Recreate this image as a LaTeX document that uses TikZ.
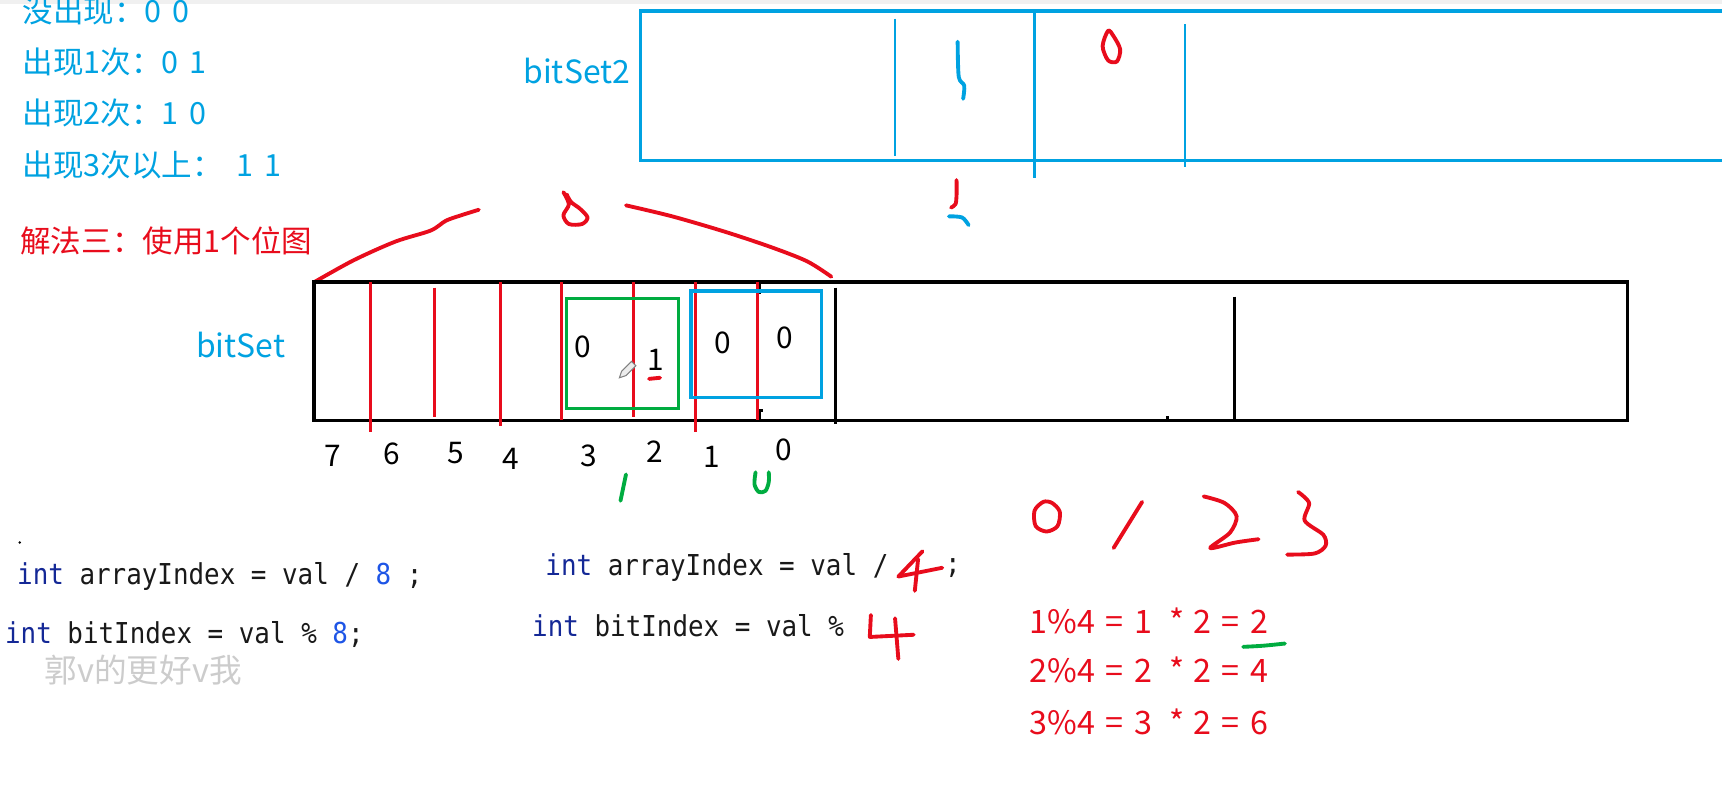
\documentclass[tikz,border=0pt]{standalone}
\usepackage{fontspec}
\setmainfont{Liberation Sans}
\newfontfamily\cjk{Noto Sans CJK SC}
\newfontfamily\codefont[FakeStretch=0.9]{DejaVu Sans Mono}
\definecolor{penred}{RGB}{232,12,28}
\definecolor{penblue}{RGB}{0,162,225}
\definecolor{pengreen}{RGB}{0,172,64}
\definecolor{kwblue}{RGB}{20,40,150}
\definecolor{numblue}{RGB}{30,85,230}

\begin{document}
\begin{tikzpicture}[x=0.011cm, y=-0.011cm,
    redpen/.style={draw=penred, line width=1.1pt, line cap=round, line join=round},
    bluepen/.style={draw=penblue, line width=1.1pt, line cap=round, line join=round},
    greenpen/.style={draw=pengreen, line width=1.1pt, line cap=round, line join=round},
    note/.style={font={\cjk\fontsize{8.7}{10}\selectfont}, inner sep=0pt, anchor=west},
    digit/.style={font={\cjk\fontsize{8.5}{10}\selectfont}, inner sep=0pt},
    code/.style={font={\codefont\fontsize{8.2}{10}\selectfont}, inner sep=0pt, anchor=west, text=black!90},
    eq/.style={font={\cjk\fontsize{9.2}{10}\selectfont}, inner sep=0pt, anchor=west, text=penred}]
    \useasboundingbox (0,0) rectangle (1568,716);
    \clip (0,0) rectangle (1568,716);
    % Toolbar strip at the top
    \fill[gray!12] (0,0) rectangle (1568,4);

    % Notes on the left
    \node[note, text=penblue] (occ0) at (20,10) {没出现：0\hspace{3pt}0};
    \node[note, text=penblue] (occ1) at (20,56) {出现1次：0\hspace{3pt}1};
    \node[note, text=penblue] (occ2) at (20,103) {出现2次：1\hspace{3pt}0};
    \node[note, text=penblue] (occ3) at (20,150) {出现3次以上：\hspace{4pt}1\hspace{3pt}1};
    \node[note, text=penred] (way3) at (18,219) {解法三：使用1个位图};

    % Second bit set
    \node[note, text=penblue, font={\cjk\fontsize{9.1}{11}\selectfont}] (bitsetTwo) at (476,65) {bitSet2};
    \draw[penblue, line width=1pt] (583,10) rectangle (1580,146);
    \draw[penblue, line width=0.8pt] (815,17) -- (815,142);
    \draw[penblue, line width=0.8pt] (942,10) -- (942,162);
    \draw[penblue, line width=0.8pt] (1079,22) -- (1079,152);
    \draw[bluepen] plot[smooth] coordinates {(872,38) (873,70) (878,78) (877,90)};
    \draw[redpen] plot[smooth cycle] coordinates {(1009,28) (1004,42) (1009,55) (1017,56) (1020,45) (1014,33)};
    \draw[redpen] plot[smooth] coordinates {(871,164) (871,178) (870,186) (866,189)};
    \draw[bluepen] plot[smooth] coordinates {(864,197) (876,198) (882,205)};

    % Brace with the 8 over the first byte
    \draw[redpen] plot[smooth] coordinates {(286,257) (322,237) (360,220) (392,210) (406,201) (420,196) (436,191)};
    \draw[redpen] plot[smooth] coordinates {(570,187) (612,197) (660,211) (702,225) (735,238) (757,252)};
    \draw[redpen] plot[smooth] coordinates {(513,175) (518,186) (513,196) (518,204) (530,204) (535,198) (528,190) (520,184) (516,177)};

    % First bit set
    \node[note, text=penblue, font={\cjk\fontsize{9.1}{11}\selectfont}] (bitset) at (178,314) {bitSet};
    \draw[black, line width=1pt] (286,257) rectangle (1482,383);
    \draw[black, line width=0.8pt] (761,262) -- (761,386);
    \draw[black, line width=0.8pt] (1124,270) -- (1124,383);
    \draw[black, line width=0.8pt] (692,258) -- (692,268);
    \draw[black, line width=0.8pt] (692,383) -- (692,374) -- (695,374);
    \draw[black, line width=0.8pt] (1063,379) -- (1063,383);
    % Red cuts between the bits
    \foreach \xc/\ya/\yb in {337/257/393, 396/262/380, 456/257/388, 511/257/382, 577/257/380, 633/257/393, 690/257/382}
        \draw[penred, line width=0.9pt] (\xc,\ya) -- (\xc,\yb);
    % Groups of two bits
    \draw[pengreen, line width=1pt] (516,272) rectangle (618,372);
    \draw[penblue, line width=1.1pt] (629,265) rectangle (748,362);
    \node[digit] (b3) at (531,316) {0};
    \node[digit] (b2) at (597,328) {1};
    \node[digit] (b1) at (658,312) {0};
    \node[digit] (b0) at (715,308) {0};
    \draw[redpen] (591,345) -- (601,344);
    % Pencil cursor
    \draw[gray, line width=0.3pt, fill=gray!15] (564,344) -- (566,338) -- (575,329) -- (579,333) -- (570,342) -- cycle;

    % Bit numbers
    \foreach \xc/\yc/\lbl in {303/415/7, 357/413/6, 415/413/5, 465/418/4, 536/415/3, 596/411/2, 648/416/1, 714/410/0}
        \node[digit] (n\lbl) at (\xc,\yc) {\lbl};
    \draw[greenpen] (570,432) -- (565,456);
    \draw[greenpen] plot[smooth] coordinates {(688,430) (687,441) (691,448) (697,447) (700,439) (700,430)};

    % Code for 8 bits
    \fill[black] (18,494) circle (1.2);
    \node[code] (arrEight) at (15,525) {\textcolor{kwblue}{int} arrayIndex = val / \textcolor{numblue}{8} ;};
    \node[code] (bitEight) at (4,578) {\textcolor{kwblue}{int} bitIndex = val \% \textcolor{numblue}{8};};
    \node[note, text=gray!40, font={\cjk\fontsize{9.3}{11}\selectfont}] (mark) at (40,610) {郭v的更好v我};

    % Code for 4 groups
    \node[code] (arrFour) at (496,517) {\textcolor{kwblue}{int} arrayIndex = val /};
    \node[code] (semi) at (860,517) {;};
    \node[code] (bitFour) at (484,570) {\textcolor{kwblue}{int} bitIndex = val \%};
    \draw[redpen] (840,502) -- (818,525) -- (858,517);
    \draw[redpen] (836,509) -- (833,538);
    \draw[redpen] (793,560) -- (792,580) -- (832,578);
    \draw[redpen] (815,563) -- (818,600);

    % Handwritten 0 1 2 3
    \draw[redpen] plot[smooth cycle] coordinates {(950,457) (942,465) (943,479) (953,484) (963,479) (965,466) (958,458)};
    \draw[redpen] (1040,457) -- (1014,499);
    \draw[redpen] plot[smooth] coordinates {(1096,452) (1115,458) (1126,470) (1120,485) (1102,499) (1125,494) (1146,491)};
    \draw[redpen] plot[smooth] coordinates {(1182,448) (1192,458) (1188,474) (1205,487) (1207,497) (1197,504) (1172,505)};

    % Remainder times two
    \node[eq] (eqOne) at (937,565) {1\%4\hspace{3pt}=\hspace{3pt}1\hspace{5pt}*\hspace{2.5pt}2\hspace{3pt}=\hspace{3pt}2};
    \node[eq] (eqTwo) at (937,610) {2\%4\hspace{3pt}=\hspace{3pt}2\hspace{5pt}*\hspace{2.5pt}2\hspace{3pt}=\hspace{3pt}4};
    \node[eq] (eqThree) at (937,657) {3\%4\hspace{3pt}=\hspace{3pt}3\hspace{5pt}*\hspace{2.5pt}2\hspace{3pt}=\hspace{3pt}6};
    \draw[greenpen] plot[smooth] coordinates {(1132,589) (1150,588) (1170,586)};
\end{tikzpicture}
\end{document}
